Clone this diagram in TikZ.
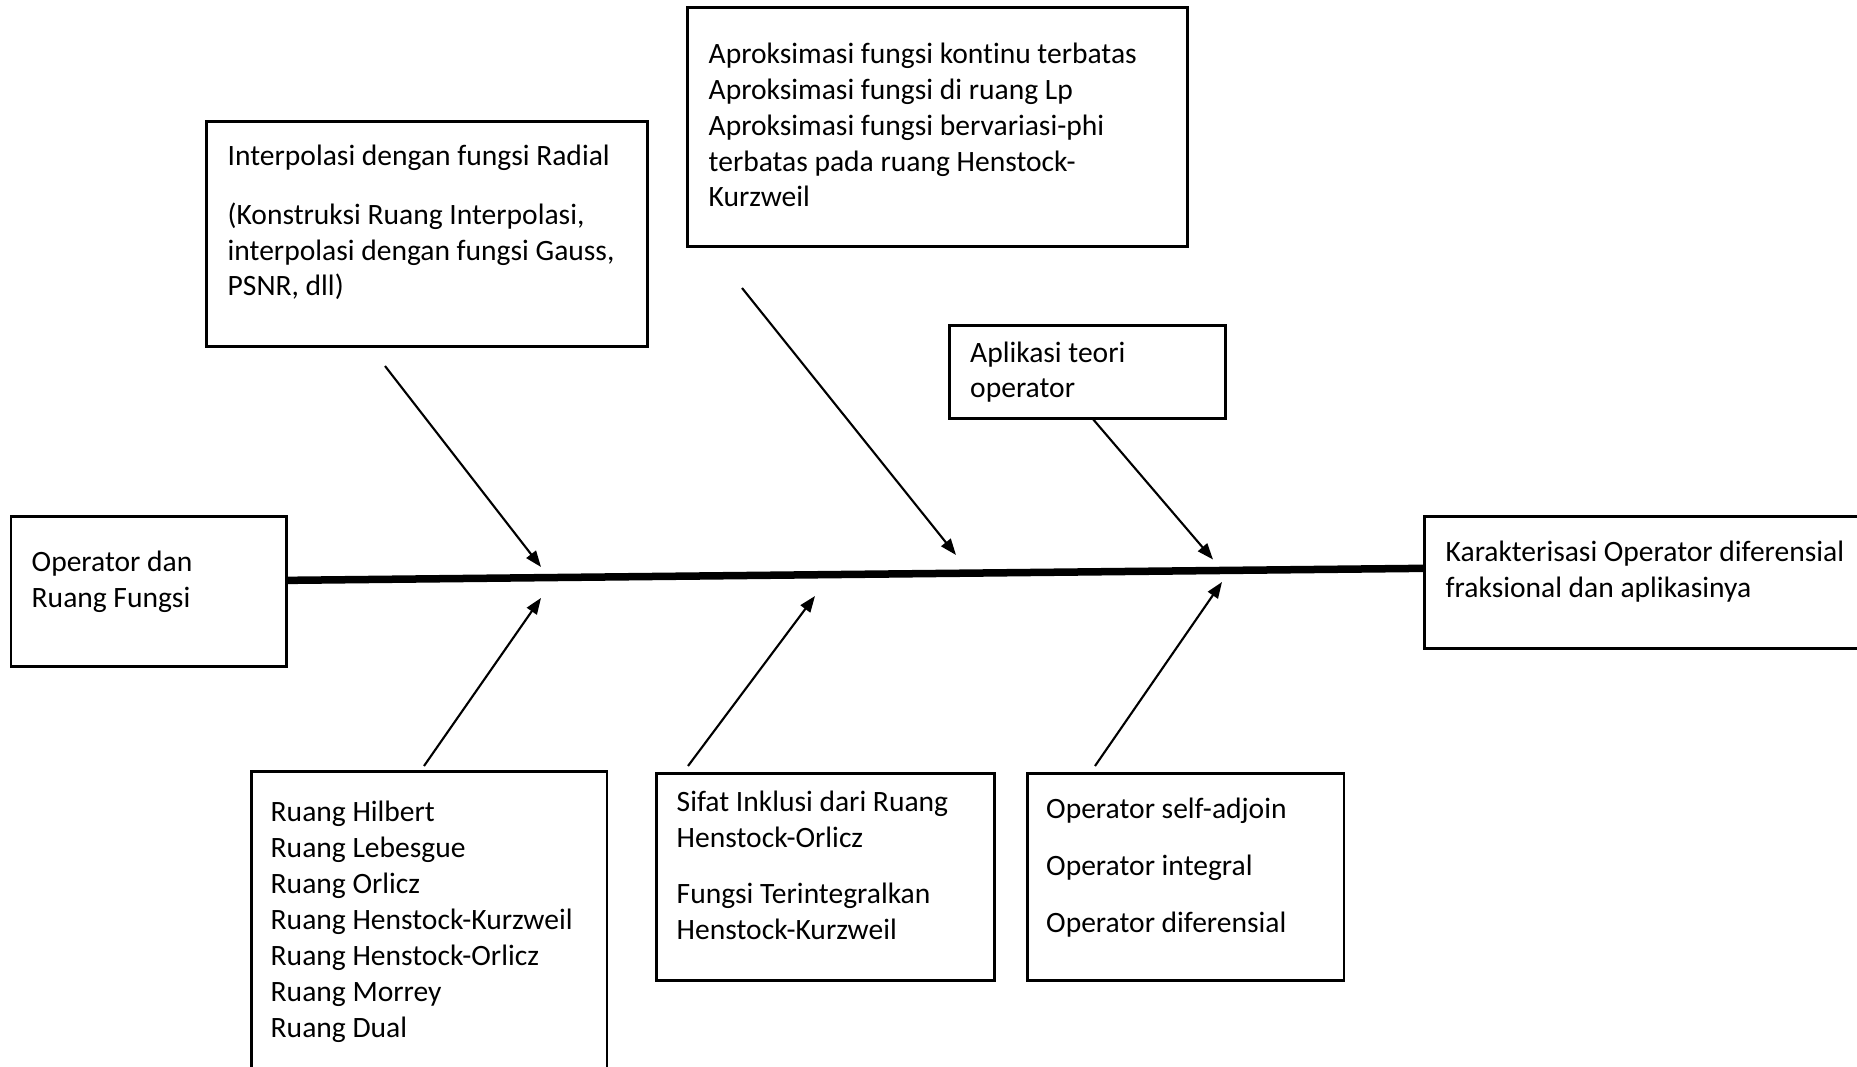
\documentclass[tikz,border=0pt]{standalone}
\usepackage{fontspec}
\setmainfont{Carlito}[Ligatures=NoCommon]
\usetikzlibrary{arrows.meta}
\begin{document}
\begin{tikzpicture}[x=0.01cm,y=-0.01cm,
  box/.style={draw,line width=0.75pt,rectangle,inner sep=0,anchor=north west},
  txt/.style={inner sep=0,anchor=base west,align=left,font=\fontsize{8.4pt}{10.2pt}\selectfont},
  arr/.style={line width=0.6pt,-{Triangle[length=4.6pt,width=3.4pt]}},
  spine/.style={line width=0.075cm}]
\useasboundingbox (0,0) rectangle (1857,1067);
\clip (0,0) rectangle (1857,1067);
% boxes
\node[box,minimum width=2.755cm,minimum height=1.50cm] (src) at (9.5,515) {};
\node[box,minimum width=4.41cm,minimum height=2.25cm] (interp) at (205,120) {};
\node[box,minimum width=5.00cm,minimum height=2.39cm] (aprok) at (686,6) {};
\node[box,minimum width=2.76cm,minimum height=0.925cm] (apl) at (948,324.5) {};
\node[box,minimum width=4.50cm,minimum height=1.32cm] (kar) at (1423,515) {};
\node[box,minimum width=3.555cm,minimum height=3.30cm] (ruang) at (250,770) {};
\node[box,minimum width=3.38cm,minimum height=2.07cm] (sifat) at (655,772) {};
\node[box,minimum width=3.166cm,minimum height=2.07cm] (oper) at (1026,772) {};
% texts (anchored at the baseline of their last line)
\node[txt] (srcT) at (31,607) {Operator dan\\Ruang Fungsi};
\node[txt] (interpT) at (227,296) {Interpolasi dengan fungsi Radial\\[0.23cm](Konstruksi Ruang Interpolasi,\\interpolasi dengan fungsi Gauss,\\PSNR, dll)};
\node[txt] (aprokT) at (708,207) {Aproksimasi fungsi kontinu terbatas\\Aproksimasi fungsi di ruang Lp\\Aproksimasi fungsi bervariasi-phi\\terbatas pada ruang Henstock-\\Kurzweil};
\node[txt] (aplT) at (969.5,398) {Aplikasi teori\\operator};
\node[txt] (karT) at (1445,597) {Karakterisasi Operator diferensial\\fraksional dan aplikasinya};
\node[txt] (ruangT) at (270,1037) {Ruang Hilbert\\Ruang Lebesgue\\Ruang Orlicz\\Ruang Henstock-Kurzweil\\Ruang Henstock-Orlicz\\Ruang Morrey\\Ruang Dual};
\node[txt] (sifatT) at (676,939) {Sifat Inklusi dari Ruang\\Henstock-Orlicz\\[0.20cm]Fungsi Terintegralkan\\Henstock-Kurzweil};
\node[txt] (operT) at (1045.5,932) {Operator self-adjoin\\[0.21cm]Operator integral\\[0.21cm]Operator diferensial};
% spine
\draw[spine] ([yshift=0.11cm]src.east) -- ([yshift=0.14cm]kar.west);
% arrow ends
\coordinate (a1s) at (385,366);  \coordinate (a1t) at (541,567);
\coordinate (a2s) at (742,288);  \coordinate (a2t) at (956,555);
\coordinate (a3s) at (1092,418); \coordinate (a3t) at (1213,559.5);
\coordinate (b1s) at (424,766);  \coordinate (b1t) at (541,598);
\coordinate (b2s) at (688,766);  \coordinate (b2t) at (815,596);
\coordinate (b3s) at (1095,766); \coordinate (b3t) at (1222,582);
\draw[arr] (a1s) -- (a1t);
\draw[arr] (a2s) -- (a2t);
\draw[arr] (a3s) -- (a3t);
\draw[arr] (b1s) -- (b1t);
\draw[arr] (b2s) -- (b2t);
\draw[arr] (b3s) -- (b3t);
\end{tikzpicture}
\end{document}
